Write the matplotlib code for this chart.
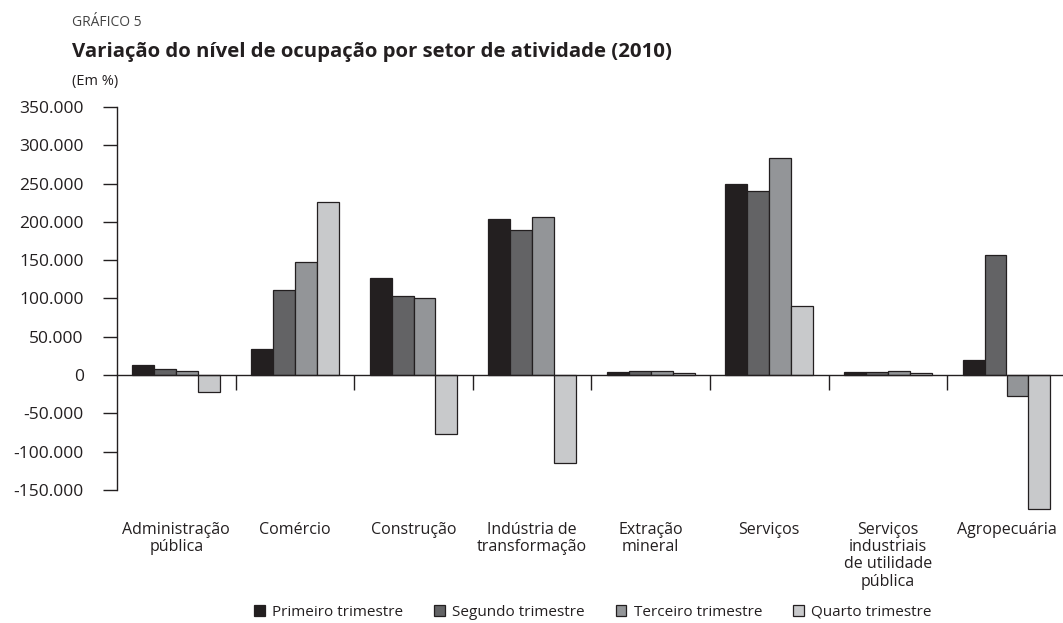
import matplotlib
matplotlib.use("Agg")
import matplotlib.pyplot as plt
import matplotlib.ticker as mticker
import matplotlib.transforms as mtransforms
from matplotlib.patches import Patch
import numpy as np

categories = ["Administração\npública", "Comércio", "Construção", "Indústria de\ntransformação",
              "Extração\nmineral", "Serviços", "Serviços\nindustriais\nde utilidade\npública",
              "Agropecuária"]
series_names = ["Primeiro trimestre", "Segundo trimestre", "Terceiro trimestre", "Quarto trimestre"]
q1 = [13000, 33500, 126500, 204000, 4000, 249000, 3500, 19000]
q2 = [7400, 110500, 102800, 189000, 5000, 240000, 3500, 156500]
q3 = [4800, 147500, 100700, 206000, 5000, 284000, 5000, -28000]
q4 = [-22500, 226000, -77000, -115000, 2500, 90000, 2500, -175000]
colors = ["#231f20", "#636365", "#939598", "#c8c9cb"]
yticks = [-150000, -100000, -50000, 0, 50000, 100000, 150000, 200000, 250000, 300000, 350000]

plt.rcParams['font.family'] = ['Open Sans', 'DejaVu Sans']
TXT = "#231f20"

fig = plt.figure(figsize=(10.63, 6.23), dpi=100)
ax = fig.add_axes([117/1063, 0.1706, 1 - 117/1063, 0.8283 - 0.1706])

x = np.arange(len(categories))
w = 0.185
for i, (vals, c) in enumerate(zip([q1, q2, q3, q4], colors)):
    ax.bar(x + (i - 1.5) * w, vals, width=w, color=c, edgecolor=TXT, linewidth=0.9, zorder=2)

ax.set_xlim(-0.5, -0.5 + (1063 - 117) / 118.6)
ax.set_ylim(-185000, 350000)

for s in ["top", "right"]:
    ax.spines[s].set_visible(False)
ax.spines["left"].set_bounds(-150000, 350000)
ax.spines["left"].set_linewidth(1.0)
ax.spines["left"].set_color(TXT)
ax.spines["bottom"].set_position(("data", 0))
ax.spines["bottom"].set_linewidth(1.0)
ax.spines["bottom"].set_color(TXT)
ax.spines["bottom"].set_zorder(3)

ax.set_yticks(yticks)
ax.yaxis.set_major_formatter(mticker.FuncFormatter(lambda v, p: f"{int(v):,}".replace(",", ".")))
ax.tick_params(axis="y", direction="out", length=10, width=1, pad=14, labelsize=12.5,
               colors=TXT)
ax.set_xticks(np.arange(0.5, len(categories) - 0.5, 1.0))
ax.set_xticklabels([])
ax.tick_params(axis="x", direction="out", length=10.5, width=1, colors=TXT)

trans = mtransforms.blended_transform_factory(ax.transData, fig.transFigure)
for xi, lab in zip(x, categories):
    ax.text(xi, 1 - 522 / 623, lab, transform=trans, ha="center", va="top", fontsize=11.5,
            linespacing=1.1, color=TXT)

fig.text(72/1063, 1 - 22/623, "GRÁFICO 5", fontsize=10, color="#444444", va="center", ha="left")
fig.text(72/1063, 1 - 52/623, "Variação do nível de ocupação por setor de atividade (2010)",
         fontsize=14.7, fontweight="bold", color=TXT, va="center", ha="left")
fig.text(72/1063, 1 - 81/623, "(Em %)", fontsize=10.5, color=TXT, va="center", ha="left")

handles = [Patch(facecolor=c, edgecolor=TXT, linewidth=0.9) for c in colors]
fig.legend(handles, series_names, loc="center", bbox_to_anchor=(593/1063, 1 - 612/623), ncol=4,
           frameon=False, fontsize=11, handlelength=0.7, handleheight=0.7, handletextpad=0.5,
           columnspacing=2.0, borderaxespad=0, labelcolor=TXT)

fig.savefig("out.png", dpi=100)
